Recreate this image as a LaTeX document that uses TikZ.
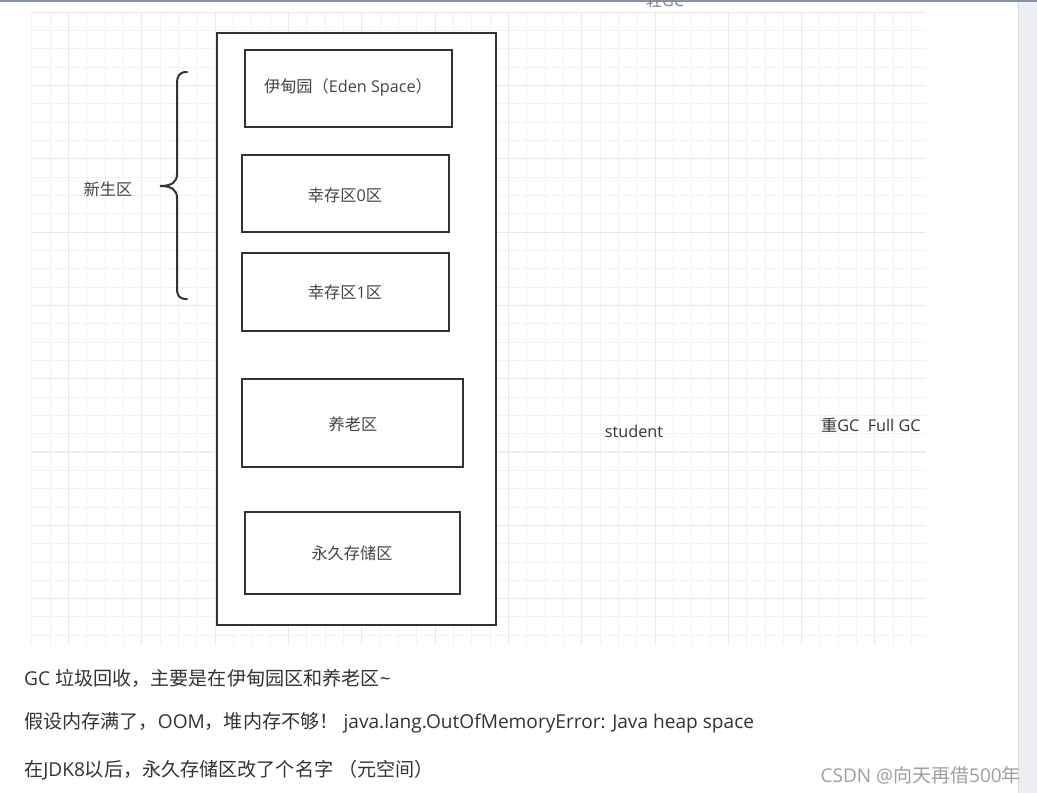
\documentclass[tikz,border=0pt]{standalone}
\usepackage{fontspec}
\setmainfont{Open Sans}
\newfontfamily\cjk{Noto Sans CJK SC}
\definecolor{ink}{HTML}{333333}
\definecolor{lbl}{HTML}{444444}
\definecolor{gridminor}{HTML}{F2F2F2}
\definecolor{gridmajor}{HTML}{E8E8E8}
\definecolor{scroll}{HTML}{EDEDF4}
\definecolor{topbar}{HTML}{8593A6}
\begin{document}
\begin{tikzpicture}[x=1pt,y=-1pt,
  region/.style={draw=ink,line width=2pt},
  boxlabel/.style={font=\fontsize{16.2}{19}\selectfont,text=lbl,inner sep=0pt},
  note/.style={font=\fontsize{19.1}{23}\selectfont,text=ink,anchor=west,inner sep=0pt},
  sidelabel/.style={font=\fontsize{16.2}{19}\selectfont,text=lbl,inner sep=0pt}]
\useasboundingbox (0,0) rectangle (1037,793);
\fill[white] (0,0) rectangle (1037,793);
% grid
\foreach \i in {0,...,48} {
  \pgfmathsetmacro{\xx}{31.7+18.33*\i}
  \draw[gridminor,line width=0.8pt] (\xx,12) -- (\xx,645);
}
\foreach \i in {0,...,34} {
  \pgfmathsetmacro{\yy}{12+18.33*\i}
  \draw[gridminor,line width=0.8pt] (31.7,\yy) -- (926,\yy);
}
\foreach \i in {0,...,11} {
  \pgfmathsetmacro{\xx}{68.4+73.32*\i}
  \draw[gridmajor,line width=0.9pt] (\xx,12) -- (\xx,645);
}
\foreach \i in {0,...,8} {
  \pgfmathsetmacro{\yy}{12+73.32*\i}
  \draw[gridmajor,line width=0.9pt] (31.7,\yy) -- (926,\yy);
}
% scrollbar and top border
\fill[scroll] (1018,0) rectangle (1037,793);
\draw[gray!30,line width=0.8pt] (1018,0) -- (1018,793);
\fill[topbar] (0,0) rectangle (1037,1.5);
% top cut label
\begin{scope}
\clip (0,1.5) rectangle (1037,793);
\node[sidelabel,text=gray] (light) at (665,0) {{\cjk 轻}GC};
\end{scope}
% outer heap
\draw[region,fill=white] (217,33) rectangle (496,625);
\node[region,fill=white,minimum width=207pt,minimum height=77pt,inner sep=0pt] (eden) at (348,88.5) {};
\node[boxlabel] at (348,88) {{\cjk 伊甸园（}Eden Space{\cjk ）}};
\node[region,minimum width=207pt,minimum height=77pt] (s0) at (345.7,193.7) {};
\node[boxlabel] at (345,195) {{\cjk 幸存区}0{\cjk 区}};
\node[region,minimum width=207pt,minimum height=77.5pt] (s1) at (345.7,292.2) {};
\node[boxlabel] at (345,292) {{\cjk 幸存区}1{\cjk 区}};
\node[region,minimum width=221pt,minimum height=87.5pt] (old) at (352.8,422.8) {};
\node[boxlabel] at (353,424) {\cjk 养老区};
\node[region,minimum width=215pt,minimum height=82.5pt] (perm) at (352.5,552.8) {};
\node[boxlabel] at (352,553) {\cjk 永久存储区};
% brace
\coordinate (bt) at (187,72);
\coordinate (bb) at (187,299);
\coordinate (tip) at (160,186);
\draw[ink,line width=2pt,line cap=round] (bt) .. controls (179,72) and (177,76) .. (177,84) -- (177,174)
  .. controls (177,182) and (172,186) .. (tip)
  .. controls (172,186) and (177,190) .. (177,198) -- (177,288)
  .. controls (177,296) and (179,299) .. (bb);
\node[sidelabel] (young) at (108,189) {\cjk 新生区};
% side labels
\node[sidelabel,text=ink] (stu) at (634,431) {student};
\node[sidelabel,text=ink,anchor=west] (full) at (821,425) {{\cjk 重}GC\ \ Full GC};
% notes
\node[note] (n1) at (24,678) {GC {\cjk 垃圾回收，主要是在伊甸园区和养老区}\textasciitilde};
\node[note] (n2) at (24,723) {{\cjk 假设内存满了，}OOM{\cjk ，堆内存不够！} java.lang.OutOfMemoryError: Java heap space};
\node[note] (n3) at (24,770) {{\cjk 在}JDK8{\cjk 以后，永久存储区改了个名字} {\cjk （元空间）}};
\node[font=\fontsize{19}{22}\selectfont,text=gray!75,anchor=east,inner sep=0pt] (wm) at (1021,775) {CSDN @{\cjk 向天再借}500{\cjk 年}};
\end{tikzpicture}
\end{document}
